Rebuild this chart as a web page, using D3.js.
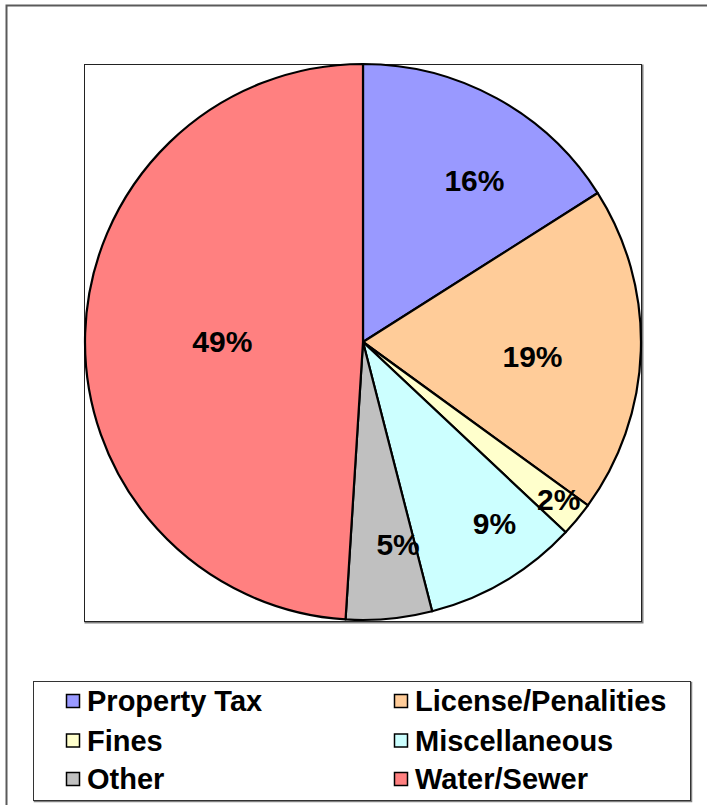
<!DOCTYPE html>
<html>
<head>
<meta charset="utf-8">
<script src="https://cdn.jsdelivr.net/npm/d3@7"></script>
<style>
  body { margin: 0; background: #fff; }
  svg { display: block; font-family: Arial, "Liberation Sans", sans-serif; }
</style>
</head>
<body>
<svg id="chart" width="707" height="805"></svg>
<script>
const categories = ['Property Tax', 'License/Penalities', 'Fines', 'Miscellaneous', 'Other', 'Water/Sewer'];
const values = [16, 19, 2, 9, 5, 49];
const labels = ['16%', '19%', '2%', '9%', '5%', '49%'];
const colors = ['#9999FF', '#FFCC99', '#FFFFCC', '#CCFFFF', '#C0C0C0', '#FF8080'];

// where each percent label sits: share of the radius, then a small nudge
const labelPos = [0.69, 0.61, 0.9, 0.78, 0.73, 0.51];
const labelNudge = [[19, 7], [0, 9], [3, -2], [21, -5], [16, 0], [1, 4]];

const svg = d3.select('#chart');

// outer chart frame (runs off the right and bottom edge)
svg.append('rect')
  .attr('x', 6.5).attr('y', 5.5)
  .attr('width', 720).attr('height', 820)
  .attr('fill', 'none')
  .attr('stroke', '#5a5a5a')
  .attr('stroke-width', 2);

// plot area
const plot = { x: 84, y: 64, w: 557, h: 557 };
svg.append('rect')
  .attr('x', plot.x + 1.5).attr('y', plot.y + 1.5)
  .attr('width', plot.w).attr('height', plot.h)
  .attr('fill', 'none')
  .attr('stroke', '#808080')
  .attr('stroke-width', 2);
svg.append('rect')
  .attr('x', plot.x + 0.5).attr('y', plot.y + 0.5)
  .attr('width', plot.w).attr('height', plot.h)
  .attr('fill', '#fff')
  .attr('stroke', '#222')
  .attr('stroke-width', 1);

const cx = 363, cy = 342, r = 278;

const pie = d3.pie().sort(null).value(d => d);
const arcs = pie(values);
const arc = d3.arc().innerRadius(0).outerRadius(r);

const g = svg.append('g').attr('transform', `translate(${cx},${cy})`);

g.selectAll('path.slice')
  .data(arcs)
  .enter()
  .append('path')
  .attr('class', 'slice')
  .attr('d', arc)
  .attr('fill', (d, i) => colors[i])
  .attr('stroke', '#000')
  .attr('stroke-width', 2.2)
  .attr('stroke-linejoin', 'round');

g.selectAll('text.pct')
  .data(arcs)
  .enter()
  .append('text')
  .attr('class', 'pct')
  .attr('transform', (d, i) => {
    const a = (d.startAngle + d.endAngle) / 2;
    const rr = r * labelPos[i];
    const x = Math.sin(a) * rr + labelNudge[i][0];
    const y = -Math.cos(a) * rr + labelNudge[i][1];
    return `translate(${x},${y})`;
  })
  .attr('text-anchor', 'middle')
  .attr('dominant-baseline', 'central')
  .attr('font-size', 30)
  .attr('font-weight', 'bold')
  .attr('fill', '#000')
  .text((d, i) => labels[i]);

// legend
const legend = { x: 33, y: 681, w: 657, h: 119 };
svg.append('rect')
  .attr('x', legend.x + 1.5).attr('y', legend.y + 1.5)
  .attr('width', legend.w).attr('height', legend.h)
  .attr('fill', 'none')
  .attr('stroke', '#808080')
  .attr('stroke-width', 1.5);
svg.append('rect')
  .attr('x', legend.x + 0.5).attr('y', legend.y + 0.5)
  .attr('width', legend.w).attr('height', legend.h)
  .attr('fill', '#fff')
  .attr('stroke', '#333')
  .attr('stroke-width', 1);

const colX = [66, 394];
const rowY = [701, 740.5, 779];

const item = svg.selectAll('g.item')
  .data(categories)
  .enter()
  .append('g')
  .attr('class', 'item')
  .attr('transform', (d, i) => `translate(${colX[i % 2]},${rowY[Math.floor(i / 2)]})`);

item.append('rect')
  .attr('x', 0.5).attr('y', -6.5)
  .attr('width', 13).attr('height', 13)
  .attr('fill', (d, i) => colors[i])
  .attr('stroke', '#000')
  .attr('stroke-width', 1.5);

item.append('text')
  .attr('x', 21)
  .attr('y', 0)
  .attr('dominant-baseline', 'central')
  .attr('font-size', 29)
  .attr('font-weight', 'bold')
  .attr('fill', '#000')
  .text(d => d);
</script>
</body>
</html>
